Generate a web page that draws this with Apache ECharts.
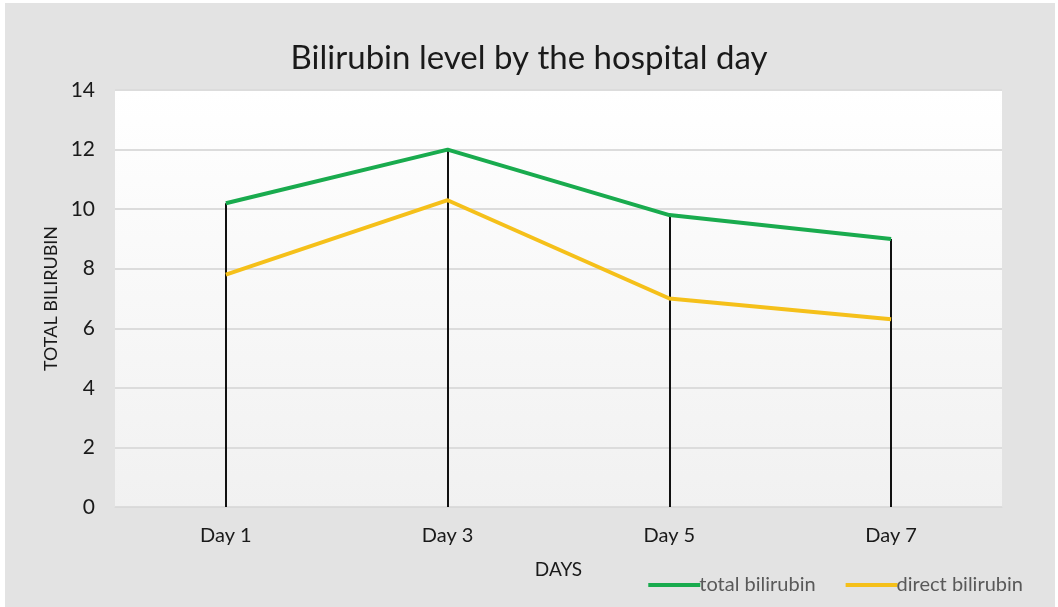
<!DOCTYPE html>
<html><head><meta charset="utf-8">
<script src="https://cdn.jsdelivr.net/npm/echarts@6/dist/echarts.min.js"></script>
<style>
html,body{margin:0;padding:0;background:#fff;width:1058px;height:607px;overflow:hidden}
#bg{position:absolute;left:5px;top:3px;width:1050px;height:604px;background:#e3e3e3}
#c{position:absolute;left:0;top:0;width:1058px;height:607px}
</style></head>
<body><div id="bg"></div><div id="c"></div>
<script>
const categories = ['Day 1', 'Day 3', 'Day 5', 'Day 7'];
const totalBilirubin = [10.2, 12.0, 9.8, 9.0];
const directBilirubin = [7.8, 10.3, 7.0, 6.3];
const yTicks = [0, 2, 4, 6, 8, 10, 12, 14];

const font = 'Lato, "Open Sans", sans-serif';
const chart = echarts.init(document.getElementById('c'), null, {renderer: 'canvas'});
const dropLines = categories.map((c, i) => [
  {coord: [c, Math.max(totalBilirubin[i], directBilirubin[i])]},
  {coord: [c, 0]}
]);
chart.setOption({
  backgroundColor: 'transparent',
  animation: false,
  title: {
    text: 'Bilirubin level by the hospital day',
    left: 'center', top: 37,
    textStyle: {fontFamily: font, fontSize: 33, fontWeight: 'normal', color: '#1a1a1a'}
  },
  legend: {
    right: 30, bottom: 7,
    itemWidth: 52, itemHeight: 4, itemGap: 30,
    icon: 'rect',
    textStyle: {fontFamily: font, fontSize: 20, color: '#595959', padding: [0,0,0,-6]},
    data: ['total bilirubin', 'direct bilirubin']
  },
  grid: {
    left: 115, right: 56, top: 90, bottom: 100,
    show: true, borderWidth: 0,
    backgroundColor: {type: 'linear', x: 0, y: 0, x2: 0, y2: 1,
      colorStops: [{offset: 0, color: '#ffffff'}, {offset: 1, color: '#f1f1f1'}]}
  },
  xAxis: {
    type: 'category', data: categories, boundaryGap: true,
    name: 'DAYS', nameLocation: 'middle', nameGap: 53,
    nameTextStyle: {fontFamily: font, fontSize: 19, color: '#1a1a1a'},
    axisLine: {show: true, lineStyle: {color: '#d9d9d9', width: 1}},
    axisTick: {show: false},
    axisLabel: {fontFamily: font, fontSize: 20, color: '#1a1a1a', margin: 19}
  },
  yAxis: {
    type: 'value', min: 0, max: 14, interval: 2,
    name: 'TOTAL BILIRUBIN', nameLocation: 'middle', nameGap: 55, nameRotate: 90,
    nameTextStyle: {fontFamily: font, fontSize: 18, color: '#1a1a1a'},
    axisLine: {show: false}, axisTick: {show: false},
    axisLabel: {fontFamily: font, fontSize: 21, color: '#1a1a1a', margin: 20,
      formatter: v => yTicks.includes(v) ? String(v) : ''},
    splitLine: {lineStyle: {color: '#dcdcdc', width: 2}}
  },
  series: [
    {
      name: 'total bilirubin', type: 'line', data: totalBilirubin,
      symbol: 'none', lineStyle: {color: '#19ab4e', width: 4}, itemStyle: {color: '#19ab4e'},
      z: 3,
      markLine: {
        silent: true, symbol: 'none', label: {show: false},
        lineStyle: {color: '#111111', width: 2, type: 'solid'},
        data: dropLines, z: 2
      }
    },
    {
      name: 'direct bilirubin', type: 'line', data: directBilirubin,
      symbol: 'none', lineStyle: {color: '#f5c01a', width: 4}, itemStyle: {color: '#f5c01a'},
      z: 3
    }
  ]
});
</script></body></html>
